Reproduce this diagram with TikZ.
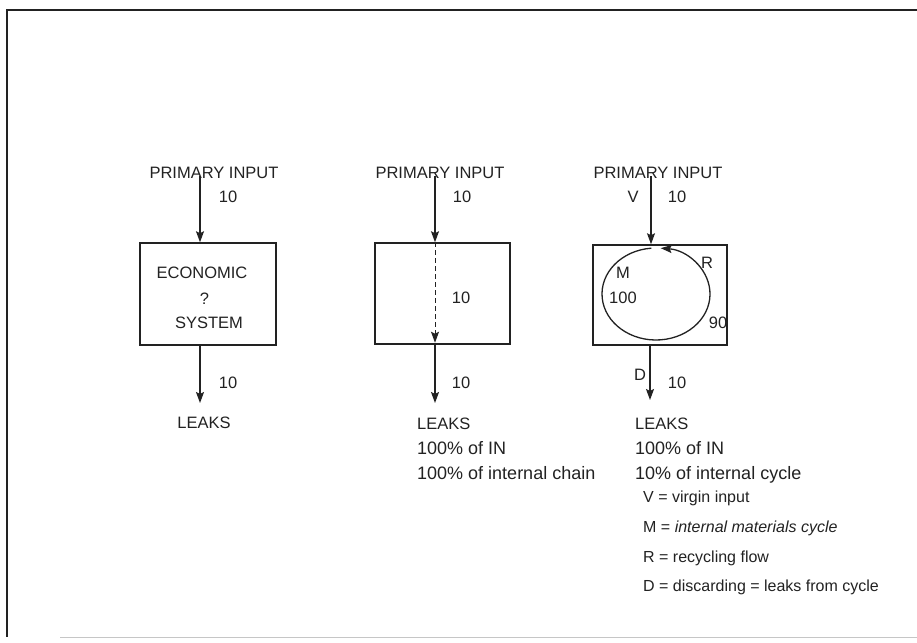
\documentclass[tikz,border=0pt]{standalone}
\usepackage{fontspec}
\setmainfont{Liberation Sans}
\usetikzlibrary{arrows.meta,calc}
\definecolor{ink}{HTML}{222222}
\begin{document}
\begin{tikzpicture}[x=1pt,y=-1pt,
  flow/.style={ink, line width=1.3pt, -{Stealth[length=11pt,width=8pt,inset=2pt]}},
  boxnode/.style={draw=ink, line width=1.5pt, inner sep=0pt},
  caplab/.style={inner sep=0pt, text=ink, font=\fontsize{16.5}{20}\selectfont, anchor=base},
  lowlab/.style={inner sep=0pt, text=ink, font=\fontsize{18}{21}\selectfont, anchor=base west},
  leglab/.style={inner sep=0pt, text=ink, font=\fontsize{16}{19}\selectfont, anchor=base west}]
\useasboundingbox (0,0) rectangle (917,642);
% outer frame
\draw[ink, line width=1.5pt] (917,10) -- (7,10) -- (7,637);
\draw[gray!45, line width=1pt] (60,637) -- (917,637);

% boxes
\node[boxnode, minimum width=136pt, minimum height=102pt] (b1) at (208,294) {};
\node[boxnode, minimum width=135pt, minimum height=101pt] (b2) at (442.5,293.5) {};
\node[boxnode, minimum width=134pt, minimum height=100pt] (b3) at (660,295) {};

% ---- column 1
\node[caplab] (pi1) at (214,178) {PRIMARY INPUT};
\node[caplab] (t1a) at (228,202) {10};
\node[caplab] (econ) at (202,278) {ECONOMIC};
\node[caplab] (q) at (204.5,304) {?};
\node[caplab] (sys) at (209,328) {SYSTEM};
\node[caplab] (t1b) at (228,388) {10};
\node[caplab] (lk1) at (204,428) {LEAKS};
\coordinate (i1) at (200,176);
\coordinate (o1) at (200,403);
\draw[flow] (i1) -- (i1 |- b1.north);
\draw[flow] (o1 |- b1.south) -- (o1);

% ---- column 2
\node[caplab] (pi2) at (440,178) {PRIMARY INPUT};
\node[caplab] (t2a) at (462,202) {10};
\node[caplab] (t2m) at (461,303) {10};
\node[caplab] (t2b) at (461,388) {10};
\node[caplab, anchor=base west] (lk2) at (417,429) {LEAKS};
\node[lowlab] (p2a) at (417,454) {100\% of IN};
\node[lowlab] (p2b) at (417,479) {100\% of internal chain};
\coordinate (i2) at (435,176);
\coordinate (o2) at (435,403);
\draw[flow] (i2) -- (i2 |- b2.north);
\draw[flow, line width=1pt, dash pattern=on 5pt off 3pt] (i2 |- b2.north) -- ($(i2 |- b2.south)+(0,-2)$);
\draw[flow] (o2 |- b2.south) -- (o2);

% ---- column 3
\node[caplab] (pi3) at (658,178) {PRIMARY INPUT};
\node[caplab] (v) at (633,202) {V};
\node[caplab] (t3a) at (677,202) {10};
\node[caplab] (m) at (623,278) {M};
\node[caplab] (h) at (623,303) {100};
\node[caplab] (r) at (707,268) {R};
\node[caplab] (n) at (718,328) {90};
\node[caplab] (d) at (640,380) {D};
\node[caplab] (t3b) at (677,388) {10};
\node[caplab, anchor=base west] (lk3) at (635,429) {LEAKS};
\node[lowlab] (p3a) at (635,454) {100\% of IN};
\node[lowlab] (p3b) at (635,479) {10\% of internal cycle};
\coordinate (i3) at (651,176);
\coordinate (o3) at (650,400);
\draw[flow] (i3) -- (i3 |- b3.north);
\draw[flow] (o3 |- b3.south) -- (o3);
\coordinate (cyc) at (656,294);
\draw[flow] ([shift={(265:54 and 46)}]cyc) arc[start angle=265, end angle=-85, x radius=54, y radius=46];

% legend
\node[leglab] (l1) at (643,502) {V = virgin input};
\node[leglab] (l2) at (643,532) {M = \itshape internal materials cycle};
\node[leglab] (l3) at (643,562) {R = recycling flow};
\node[leglab] (l4) at (643,591.5) {D = discarding = leaks from cycle};
\end{tikzpicture}
\end{document}
